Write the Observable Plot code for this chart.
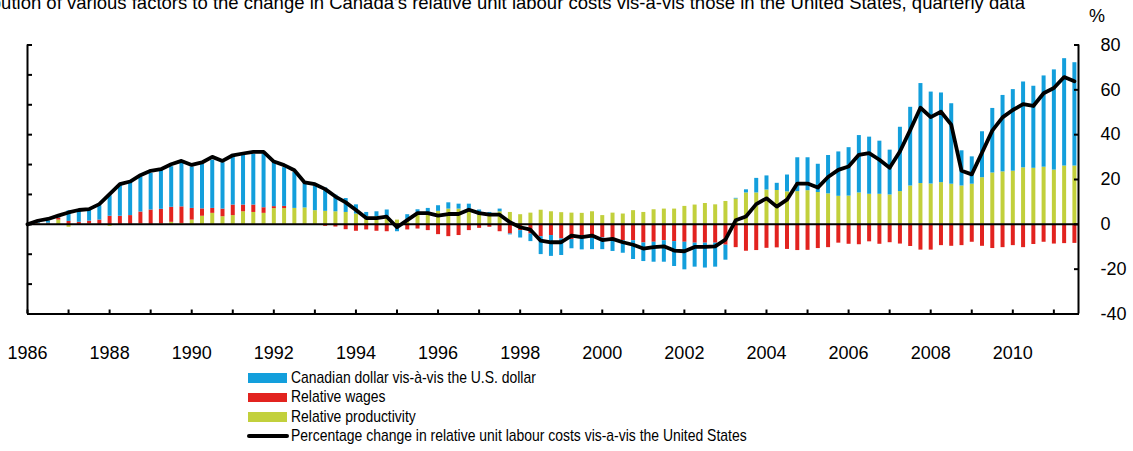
<!DOCTYPE html>
<html><head><meta charset="utf-8">
<script src="https://cdn.jsdelivr.net/npm/d3@7"></script>
<script src="https://cdn.jsdelivr.net/npm/@observablehq/plot@0.6"></script>
<style>
html,body{margin:0;padding:0;background:#fff;overflow:hidden;width:1133px;height:451px;}
#wrap{position:relative;width:1133px;height:451px;overflow:hidden;}
#title{position:absolute;right:108px;top:-6px;white-space:nowrap;font:18.5px "Liberation Sans",Arial,sans-serif;line-height:1;color:#000;}
#pct{position:absolute;left:1089px;top:6.5px;font:18px "Liberation Sans",Arial,sans-serif;line-height:1;color:#000;}
#chart{position:absolute;left:0;top:0;}
#legend{position:absolute;left:247px;top:368.3px;font:17px "Liberation Sans",Arial,sans-serif;color:#000;}
.row{display:flex;align-items:center;height:19.4px;white-space:nowrap;}
.sw{width:39px;height:9.5px;margin-left:1px;margin-right:4px;flex:none;}
.ln{width:42px;height:3.6px;background:#000;margin-right:2px;border-radius:2px;flex:none;}
.tx{display:inline-block;transform:scaleX(0.82);transform-origin:0 50%;}
</style></head>
<body><div id="wrap">
<div id="title">Contribution of various factors to the change in Canada’s relative unit labour costs vis-à-vis those in the United States, quarterly data</div>
<div id="pct">%</div>
<div id="chart"></div>
<div id="legend"></div>
</div>
<script>
// ---- data (quarterly, starting 1986Q1) ----
const startYear = 1986;
const seriesNames = ["Canadian dollar vis-à-vis the U.S. dollar", "Relative wages", "Relative productivity"];
const lineName = "Percentage change in relative unit labour costs vis-a-vis the United States";
const seriesColors = ["#139fdc", "#e2231f", "#c2d03c"];

const cad = [0,0.6,1.0,0.8,4.7,4.9,4.9,6.4,9.2,13.9,14.8,15.6,16.3,17.3,18.1,19.7,18.5,20.0,21.5,20.7,21.2,22.2,22.7,24.1,19.7,17.3,16.0,11.4,11.1,10.4,7.4,6.2,4.1,1.9,2.2,3.0,-2.0,2.4,1.5,2.1,2.5,2.8,2.2,2.6,2.3,0.7,1.2,-0.4,-3.3,-3.4,-8.0,-9.3,-7.4,-4.1,-6.4,-5.2,-5.2,-5.6,-5.6,-8.4,-8.3,-8.9,-9.6,-11.1,-12.3,-10.7,-11.1,-10.7,-6.7,0.3,1.4,6.5,6.3,3.2,7.5,15.1,14.7,12.6,17.1,19.8,21.6,25.6,25.5,23.7,20.0,28.7,35.1,44.6,41.0,40.0,35.9,15.7,12.2,20.5,28.8,34.1,36.4,38.3,36.6,40.7,44.7,47.9,46.1];
const wages = [0,0.3,0.3,0.9,1.3,0.9,1.2,1.9,3.6,3.6,3.9,5.3,6.4,6.5,6.7,7.4,5.2,3.3,2.2,3.4,4.7,3.0,3.3,2.5,0.9,1.0,0,0,0,-0.9,-1.2,-2.4,-3.1,-2.5,-3.1,-3.3,-1.3,-2.5,-2.1,-2.8,-4.6,-5.5,-5.0,-2.8,-1.8,-1.3,-3.3,-4.3,-2.8,-4.3,-5.5,-5.0,-6.5,-6.8,-5.0,-6.1,-6.1,-6.5,-7.3,-7.3,-8.3,-8.0,-7.3,-7.7,-8.0,-8.4,-8.4,-8.4,-9.3,-10.4,-12.0,-11.7,-10.7,-10.5,-11.2,-11.7,-11.6,-10.8,-10.4,-8.4,-8.9,-9.1,-7.8,-8.9,-8.2,-8.8,-9.9,-11.5,-11.5,-9.5,-9.8,-9.5,-8.0,-9.8,-10.8,-10.4,-9.5,-10.4,-9.0,-8.0,-8.8,-8.6,-8.5];
const prod = [0,0.2,0.2,1.9,-1.3,0,0.2,0,-0.9,0,0,0.2,-0.3,0.2,0.9,0.4,1.9,3.6,4.9,3.4,3.9,5.6,5.3,4.9,7.0,7.0,7.1,7.3,6.1,5.8,5.6,5.3,4.6,3.4,3.4,3.4,1.9,1.9,5.0,5.0,5.8,6.8,6.8,6.4,4.1,4.6,5.6,5.3,4.3,5.0,6.3,5.6,5.2,5.0,4.9,5.6,3.9,5.0,4.6,6.1,5.3,6.5,6.8,6.8,8.0,8.6,9.3,8.7,10.2,11.3,14.0,14.0,15.3,15.1,14.5,14.6,15.0,14.2,13.6,12.5,12.6,14.0,13.4,13.4,13.1,14.6,17.1,18.2,18.0,18.6,17.9,17.1,17.9,20.8,22.9,23.4,23.7,25.2,25.0,25.5,24.2,26.0,26.0];
const rulc = [0,1.6,2.4,3.9,5.3,6.4,6.8,9.0,13.5,17.9,19.1,21.9,23.9,24.6,26.8,28.3,26.5,27.6,30.1,28.3,30.8,31.6,32.3,32.3,28.0,26.4,24.1,18.7,17.9,15.7,12.4,9.8,6.4,2.8,2.8,3.4,-1.3,1.9,5.0,5.0,3.9,4.6,4.6,6.5,5.0,4.3,4.3,0.9,-1.3,-2.4,-7.3,-8.0,-8.0,-5.0,-5.7,-5.0,-7.0,-6.5,-8.0,-9.1,-10.8,-10.2,-9.8,-11.7,-12.0,-10.1,-10.1,-9.8,-6.8,1.8,3.5,9.0,11.6,7.9,11.0,18.2,18.2,16.4,21.1,24.3,25.8,31.0,31.8,28.8,25.2,32.5,42.0,52.0,47.8,50.2,44.5,23.9,22.3,32.0,41.8,47.7,51.0,53.6,52.8,58.5,60.8,65.7,63.8];

const xDomain = [1986, 2011.6];
const yDomain = [-40, 80];
const yearTicks = d3.range(1986, 2012);
const rightTicks = [-40, -20, 0, 20, 40, 60, 80];
const leftTicks = d3.range(0, 10).map(k => -40 + k * 40 / 3);

// ---- tables built from the arrays ----
const t = cad.map((_, i) => startYear + i / 4);
const rows = [];
t.forEach((ti, i) => {
  rows.push({t: ti, v: prod[i], s: seriesNames[2]});
  rows.push({t: ti, v: wages[i], s: seriesNames[1]});
  rows.push({t: ti, v: cad[i], s: seriesNames[0]});
});
const lineData = t.map((ti, i) => ({t: ti, v: rulc[i]}));

const chart = Plot.plot({
  width: 1133, height: 370,
  marginLeft: 27, marginRight: 55, marginTop: 44.5, marginBottom: 56.5,
  style: {fontFamily: "'Liberation Sans', Arial, sans-serif", fontSize: "18px", color: "#000", background: "transparent", overflow: "visible"},
  x: {domain: xDomain},
  y: {domain: yDomain},
  color: {domain: seriesNames, range: seriesColors},
  marks: [
    Plot.ruleX(rows, Plot.stackY({x: "t", y: "v", z: "s", stroke: "s", strokeWidth: 4})),
    Plot.ruleY([0], {stroke: "#000", strokeWidth: 2}),
    Plot.line(lineData, {x: "t", y: "v", stroke: "#000", strokeWidth: 3.8, strokeLinejoin: "round", strokeLinecap: "round"}),
    Plot.ruleX([xDomain[0]], {stroke: "#000", strokeWidth: 2}),
    Plot.ruleX([xDomain[1]], {stroke: "#000", strokeWidth: 2}),
    Plot.ruleY([yDomain[0]], {stroke: "#000", strokeWidth: 2}),
    Plot.axisX({ticks: yearTicks, tickSize: -4, tickPadding: 36, strokeWidth: 2, label: null,
      tickFormat: d => d % 2 === 0 ? String(d) : ""}),
    Plot.axisY({anchor: "left", ticks: leftTicks, tickSize: -5, strokeWidth: 2, label: null, tickFormat: () => ""}),
    Plot.axisY({anchor: "right", ticks: rightTicks, tickSize: -5, tickPadding: 27, strokeWidth: 2, label: null,
      tickFormat: d => String(d)})
  ]
});
document.getElementById("chart").appendChild(chart);

// ---- legend ----
const legend = document.getElementById("legend");
function addRow(swClass, color, name) {
  const row = document.createElement("div");
  row.className = "row";
  const sw = document.createElement("span");
  sw.className = swClass;
  if (color) sw.style.background = color;
  const tx = document.createElement("span");
  tx.className = "tx";
  tx.textContent = name;
  row.append(sw, tx);
  legend.append(row);
}
seriesNames.forEach((name, k) => addRow("sw", seriesColors[k], name));
addRow("ln", null, lineName);
</script>
</body></html>
